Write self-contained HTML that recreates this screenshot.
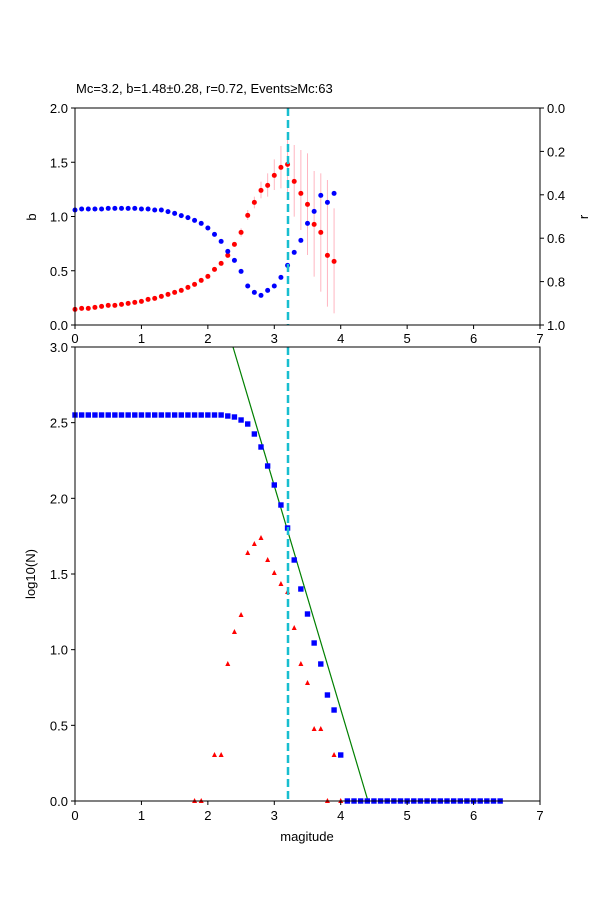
<!DOCTYPE html><html><head><style>body{margin:0;background:#fff}svg{font-family:"Liberation Sans","DejaVu Sans",sans-serif}</style></head><body>
<svg id="S" width="600" height="900" xmlns="http://www.w3.org/2000/svg" font-size="13">
<rect width="600" height="900" fill="#fff"/>
<text x="76" y="93" font-size="13">Mc=3.2, b=1.48±0.28, r=0.72, Events≥Mc:63</text>
<g id="gtop"></g><g id="gbot"></g>
</svg>
<script>
(function(){
const NS="http://www.w3.org/2000/svg";
function el(p,t,a,txt){const e=document.createElementNS(NS,t);for(const k in a)e.setAttribute(k,a[k]);if(txt!==undefined)e.textContent=txt;p.appendChild(e);return e;}
const X=v=>75+v*66.43;
const gT=document.getElementById('gtop'),gB=document.getElementById('gbot');
const by=[330,327,327,327,327,325,325,325,325,325,327,327,330,330,335,340,347,353,361,370,384,403,424,454,481,514,558,577,586,571,558,532,496,457,421,370,334,286,307,280];
const ry=[628,625,625,622,619,616,616,613,610,607,604,598,595,589,583,577,571,562,553,541,529,508,490,466,433,397,346,307,271,256,226,202,193,244,280,313,373,397,466,484];
const eb=[[385,410],[330,360],[290,325],[245,295],[220,290],[178,270],[138,265],[100,285],[135,350],[150,390],[160,465],[213,530],[220,575],[240,620],[325,640]];
eb.forEach((b,i)=>{const x=X(2.5+i*0.1);el(gT,'line',{x1:x,x2:x,y1:100+b[0]/3,y2:100+b[1]/3,stroke:'#ffb6c1','stroke-width':1});});
ry.forEach((y,i)=>el(gT,'circle',{cx:X(i*0.1),cy:100+y/3,r:2.5,fill:'red'}));
by.forEach((y,i)=>el(gT,'circle',{cx:X(i*0.1),cy:100+y/3,r:2.5,fill:'blue'}));
el(gT,'line',{x1:288,x2:288,y1:108,y2:325,stroke:'#17becf','stroke-width':2.5,'stroke-dasharray':'8,4'});
el(gT,'rect',{x:75,y:108,width:465,height:217,fill:'none',stroke:'#000','stroke-width':1});
for(let i=0;i<=7;i++){el(gT,'line',{x1:X(i),x2:X(i),y1:325,y2:329,stroke:'#000'});el(gT,'text',{x:X(i),y:343,'text-anchor':'middle'},i);}
for(let i=0;i<=4;i++){const y=325-i*54.25;el(gT,'line',{x1:71,x2:75,y1:y,y2:y,stroke:'#000'});el(gT,'text',{x:68,y:y+5,'text-anchor':'end'},(i*0.5).toFixed(1));}
for(let i=0;i<=5;i++){const y=108+i*43.4;el(gT,'line',{x1:540,x2:544,y1:y,y2:y,stroke:'#000'});el(gT,'text',{x:547,y:y+5},(i*0.2).toFixed(1));}
el(gT,'text',{x:36,y:217,'text-anchor':'middle',transform:'rotate(-90 36 217)'},'b');
el(gT,'text',{x:588,y:217,'text-anchor':'middle',transform:'rotate(-90 588 217)'},'r');
const sq={23:416,24:417,25:420,26:424,27:434,28:447,29:466,30:485,31:505,32:528,33:560,34:589,35:614,36:643,37:664,38:695,39:710,40:755};
const tri={18:801,19:801,21:755,22:755,23:664,24:632,25:615,26:553,27:544,28:538,29:560,30:573,31:584,32:592,33:628,34:664,35:683,36:729,37:729,38:801,39:755,40:801};
for(let i=0;i<=40;i++){if(tri[i]){const x=X(i/10),y=tri[i];el(gB,'polygon',{points:`${x-2.5},${y+2} ${x+2.5},${y+2} ${x},${y-3}`,fill:'red'});}}
el(gB,'line',{x1:233,y1:347,x2:368,y2:801,stroke:'green','stroke-width':1.2});
for(let i=0;i<=64;i++){const y=i<=22?415:(i<=40?sq[i]:801);el(gB,'rect',{x:X(i/10)-2.7,y:y-2.7,width:5.4,height:5.4,fill:'blue'});}
el(gB,'line',{x1:288,x2:288,y1:347,y2:801,stroke:'#17becf','stroke-width':2.5,'stroke-dasharray':'8,4'});
el(gB,'rect',{x:75,y:347,width:465,height:454,fill:'none',stroke:'#000','stroke-width':1});
for(let i=0;i<=7;i++){el(gB,'line',{x1:X(i),x2:X(i),y1:801,y2:805,stroke:'#000'});el(gB,'text',{x:X(i),y:820,'text-anchor':'middle'},i);}
for(let i=0;i<=6;i++){const y=801-i*75.67;el(gB,'line',{x1:71,x2:75,y1:y,y2:y,stroke:'#000'});el(gB,'text',{x:68,y:y+5,'text-anchor':'end'},(i*0.5).toFixed(1));}
el(gB,'text',{x:307,y:841,'text-anchor':'middle'},'magitude');
el(gB,'text',{x:35,y:574,'text-anchor':'middle',transform:'rotate(-90 35 574)'},'log10(N)');
})();
</script>
</body></html>
